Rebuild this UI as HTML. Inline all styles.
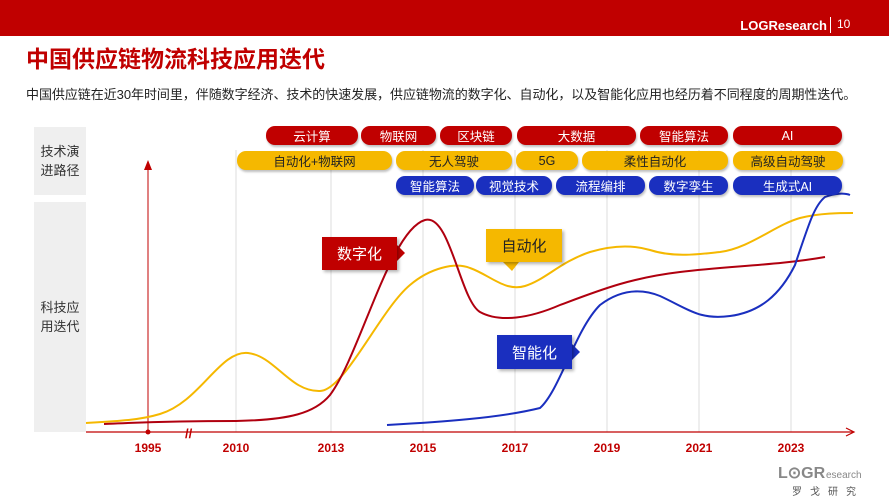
<!DOCTYPE html>
<html><head><meta charset="utf-8"><style>
*{margin:0;padding:0;box-sizing:border-box}
body{width:889px;height:500px;background:#fff;position:relative;overflow:hidden;font-family:"Liberation Sans","Noto Sans CJK SC",sans-serif}
.bar{position:absolute;left:0;top:0;width:889px;height:36px;background:#c00000}
.brand{position:absolute;right:62px;top:18px;color:#fff;font-weight:bold;font-size:13px}
.pg{position:absolute;left:830px;top:17px;color:#fff;font-size:12px;border-left:1px solid #fff;padding-left:6px;height:16px}
.title{position:absolute;left:26px;top:40px;color:#c00000;font-weight:bold;font-size:23px}
.sub{position:absolute;left:26px;top:84px;color:#222;font-size:13px;letter-spacing:-0.05px}
.gb{position:absolute;background:#efefef;color:#333;font-size:13px;display:flex;align-items:center;justify-content:center;text-align:center;line-height:19px}
.p{position:absolute;height:19px;border-radius:9px;font-size:12.5px;color:#fff;display:flex;align-items:center;justify-content:center;box-shadow:1px 2px 2px rgba(0,0,0,.25)}
.r{background:#c00000}.y{background:#f5b800;color:#222}.b{background:#1a2fbf}
.yr{position:absolute;top:441px;font-size:12px;font-weight:bold;color:#c00000;transform:translateX(-50%)}
.lab{position:absolute;font-size:15px;display:flex;align-items:center;justify-content:center;box-shadow:2px 2px 3px rgba(0,0,0,.3)}
</style></head><body>
<div class="bar"></div>
<div class="brand">LOGResearch</div><div class="pg">10</div>
<div class="title">中国供应链物流科技应用迭代</div>
<div class="sub">中国供应链在近30年时间里，伴随数字经济、技术的快速发展，供应链物流的数字化、自动化，以及智能化应用也经历着不同程度的周期性迭代。</div>
<div class="gb" style="left:34px;top:127px;width:52px;height:68px">技术演<br>进路径</div>
<div class="gb" style="left:34px;top:202px;width:52px;height:230px">科技应<br>用迭代</div>
<svg style="position:absolute;left:0;top:0" width="889" height="500">
<g stroke="#ddd" stroke-width="1">
<line x1="236" y1="150" x2="236" y2="432"/><line x1="331" y1="150" x2="331" y2="432"/><line x1="423" y1="150" x2="423" y2="432"/><line x1="515" y1="150" x2="515" y2="432"/><line x1="607" y1="150" x2="607" y2="432"/><line x1="699" y1="150" x2="699" y2="432"/><line x1="791" y1="150" x2="791" y2="432"/>
</g>
<line x1="148" y1="432" x2="148" y2="165" stroke="#c00000" stroke-width="1"/>
<path d="M144,170 L148,160 L152,170" fill="#c00000"/>
<line x1="86" y1="432" x2="853" y2="432" stroke="#c00000" stroke-width="1.2"/>
<path d="M846,428 L854,432 L846,436" fill="none" stroke="#c00000" stroke-width="1.2"/>
<circle cx="148" cy="432" r="2.5" fill="#c00000"/>
<text x="185" y="438" font-size="13" font-weight="bold" fill="#c00000" font-family="Liberation Sans">//</text>
<path d="M86,423 C120,421 140,420 160,414 C200,402 220,350 248,353 C275,356 290,392 320,391 C345,390 380,310 410,285 C430,268 455,262 470,268 C490,275 505,292 525,286 C545,280 560,262 590,252 C610,246 630,244 650,250 C675,258 700,254 720,252 C750,248 775,225 800,218 C820,213 840,213 853,213" fill="none" stroke="#f5b800" stroke-width="2"/>
<path d="M104,424 C130,423 160,421 236,421 C290,420 315,413 330,395 C360,355 390,230 425,220 C450,213 460,300 480,312 C500,323 530,318 560,305 C600,290 630,278 680,272 C730,266 780,265 825,257" fill="none" stroke="#b0000f" stroke-width="2"/>
<path d="M387,425 C440,422 500,418 540,408 C560,390 575,330 600,305 C620,290 640,288 660,296 C690,310 700,320 730,316 C760,312 780,295 795,265 C810,220 815,205 825,197 C835,193 845,193 850,195" fill="none" stroke="#1a2fbf" stroke-width="2"/>
<path d="M396,244 L405,253 L396,262Z" fill="#c00000"/>
<path d="M503,262 L512,271 L519,262Z" fill="#f5b800"/>
<path d="M571,343 L580,352 L571,361Z" fill="#1a2fbf"/>
<text x="778" y="478" font-size="16" font-weight="bold" fill="#888" font-family="Liberation Sans">L⊙GR</text><text x="826" y="478" font-size="10" fill="#888" font-family="Liberation Sans">esearch</text>
<text x="792" y="495" font-size="10" fill="#555" font-family="Noto Sans CJK SC" letter-spacing="8">罗戈研究</text>
</svg>
<div class="p r" style="left:266px;top:126px;width:92px">云计算</div>
<div class="p r" style="left:361px;top:126px;width:75px">物联网</div>
<div class="p r" style="left:440px;top:126px;width:72px">区块链</div>
<div class="p r" style="left:517px;top:126px;width:119px">大数据</div>
<div class="p r" style="left:640px;top:126px;width:88px">智能算法</div>
<div class="p r" style="left:733px;top:126px;width:109px">AI</div>
<div class="p y" style="left:237px;top:151px;width:155px">自动化+物联网</div>
<div class="p y" style="left:396px;top:151px;width:116px">无人驾驶</div>
<div class="p y" style="left:516px;top:151px;width:62px">5G</div>
<div class="p y" style="left:582px;top:151px;width:146px">柔性自动化</div>
<div class="p y" style="left:733px;top:151px;width:110px">高级自动驾驶</div>
<div class="p b" style="left:396px;top:176px;width:78px">智能算法</div>
<div class="p b" style="left:476px;top:176px;width:76px">视觉技术</div>
<div class="p b" style="left:556px;top:176px;width:89px">流程编排</div>
<div class="p b" style="left:649px;top:176px;width:79px">数字孪生</div>
<div class="p b" style="left:733px;top:176px;width:109px">生成式AI</div>
<div class="lab" style="left:322px;top:237px;width:75px;height:33px;background:#c00000;color:#fff">数字化</div>
<div class="lab" style="left:486px;top:229px;width:76px;height:33px;background:#f5b800;color:#222">自动化</div>
<div class="lab" style="left:497px;top:335px;width:75px;height:34px;background:#1a2fbf;color:#fff">智能化</div>
<div class="yr" style="left:148px">1995</div><div class="yr" style="left:236px">2010</div><div class="yr" style="left:331px">2013</div><div class="yr" style="left:423px">2015</div><div class="yr" style="left:515px">2017</div><div class="yr" style="left:607px">2019</div><div class="yr" style="left:699px">2021</div><div class="yr" style="left:791px">2023</div>
</body></html>
